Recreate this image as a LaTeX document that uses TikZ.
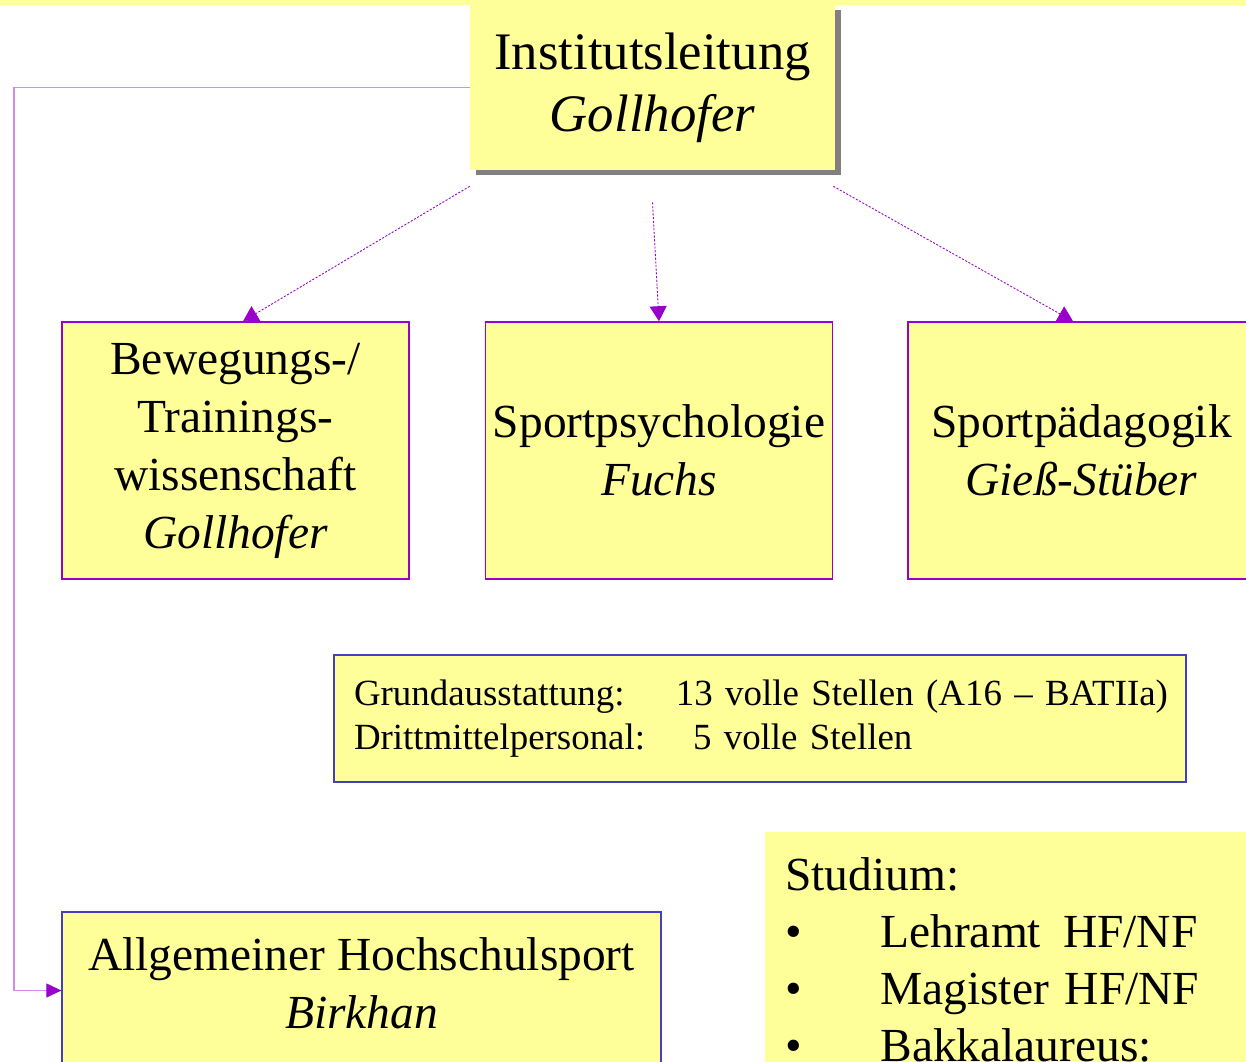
\documentclass[tikz,border=0pt]{standalone}
\usepackage{fontspec}
\setmainfont{Liberation Serif}
\usetikzlibrary{arrows.meta,shadows}
\definecolor{boxyellow}{HTML}{FFFF99}
\definecolor{orgpurple}{HTML}{9900CC}
\definecolor{orgblue}{HTML}{4040C0}
\tikzset{
  unitbox/.style={draw=orgpurple,line width=0.9pt,fill=boxyellow,minimum width=6.94cm,minimum height=5.14cm,align=center,inner sep=0pt,font=\fontsize{27}{33}\selectfont},
  infobox/.style={draw=orgblue,line width=0.7pt,fill=boxyellow,inner sep=0pt},
  subline/.style={orgpurple,line width=0.5pt,dash pattern=on 1.2pt off 0.9pt,-{Triangle[width=0.34cm,length=0.3cm]}},
}
\begin{document}
\begin{tikzpicture}[>=Triangle]
                \useasboundingbox (0,0) rectangle (24.92,-21.22);
                \fill[white] (0,0) rectangle (24.92,-21.22);
                \fill[boxyellow] (0,0) rectangle (24.92,-0.11);
                \node[fill=boxyellow,minimum width=7.3cm,minimum height=3.3cm,align=center,inner sep=0pt,
                      drop shadow={shadow xshift=0.11cm,shadow yshift=-0.11cm,fill=gray,opacity=1},
                      font=\fontsize{30}{35.3}\selectfont] (inst) at (13.05,-1.75) {Institutsleitung\\\textit{Gollhofer}};
                \node[unitbox] (bew) at (4.71,-9.01) {Bewegungs-/\\Trainings-\\wissenschaft\\\textit{Gollhofer}};
                \node[unitbox] (psy) at (13.18,-9.01) {Sportpsychologie\\\textit{Fuchs}};
                \node[unitbox] (paed) at (21.63,-9.01) {Sportpädagogik\\\textit{Gieß-Stüber}};
                \node[infobox,minimum width=17.04cm,minimum height=2.54cm,text width=16.24cm,align=left,
                      font=\fontsize{21}{25}\selectfont] (stellen) at (15.2,-14.37)
                      {\mbox{\makebox[6.44cm][l]{Grundausstattung:}13 volle Stellen (A16 – BATIIa)}\\
                       \mbox{\makebox[6.78cm][l]{Drittmittelpersonal:}5 volle Stellen}\\[0.1cm]};
                \node[infobox,minimum width=11.98cm,minimum height=4.1cm,align=center,
                      font=\fontsize{27}{33}\selectfont] (ahs) at (7.23,-20.29) {Allgemeiner Hochschulsport\\\textit{Birkhan}\\[0.1cm]};
                \node[fill=boxyellow,anchor=north west,inner xsep=0.4cm,inner ysep=0.51cm,text width=9cm,align=left,
                      font=\fontsize{27}{32.4}\selectfont] (stud) at (15.3,-16.64)
                      {Studium:\\
                       \makebox[1.9cm][l]{\textbullet}Lehramt\hspace{0.44cm}HF/NF\\
                       \makebox[1.9cm][l]{\textbullet}Magister HF/NF\\
                       \makebox[1.9cm][l]{\textbullet}Bakkalaureus:};
                % Leitung -> Abteilungen
                \draw[subline] ([yshift=-0.32cm]inst.south west) -- ([xshift=0.15cm]bew.north);
                \draw[subline] ([yshift=-0.64cm]inst.south) -- (psy.north);
                \draw[subline] ([xshift=-0.04cm,yshift=-0.32cm]inst.south east) -- ([xshift=-0.17cm]paed.north);
                % Leitung -> Hochschulsport
                \coordinate (lbend) at (0.28,-1.75);
                \draw[color=orgpurple!45,line width=0.6pt,-{Triangle[width=0.28cm,length=0.3cm,color=orgpurple]}]
                      (inst.west) -- (lbend) |- ([yshift=0.48cm]ahs.west);
            \end{tikzpicture}
\end{document}
